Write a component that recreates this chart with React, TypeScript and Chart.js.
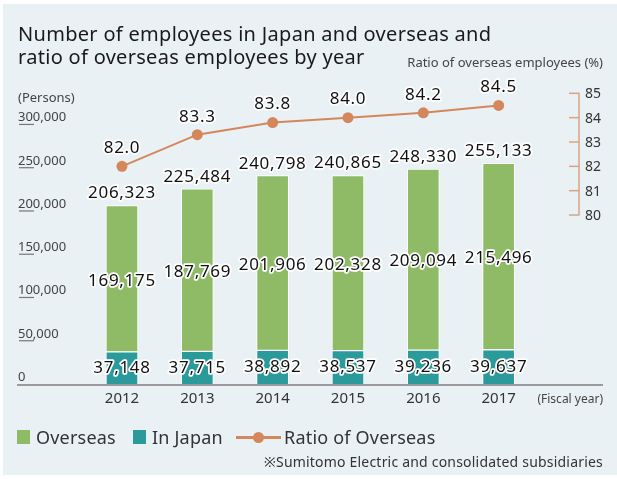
import React, { useEffect, useRef } from "react";
import { Chart, registerables } from "chart.js";

Chart.register(...registerables);

const years = ["2012", "2013", "2014", "2015", "2016", "2017"];
const inJapan = [37148, 37715, 38892, 38537, 39236, 39637];
const overseas = [169175, 187769, 201906, 202328, 209094, 215496];
const totals = [206323, 225484, 240798, 240865, 248330, 255133];
const ratio = [82.0, 83.3, 83.8, 84.0, 84.2, 84.5];
const leftTicks = [0, 50000, 100000, 150000, 200000, 250000, 300000];
const rightTicks = [80, 81, 82, 83, 84, 85];

const GREEN = "#8fbb67";
const TEAL = "#2a9a9b";
const ORANGE = "#d4875a";
const AXIS_ORANGE = "#dba382";
const FONT = '"Noto Sans", sans-serif';

const fmt = (v: number) => v.toLocaleString("en-US");

function haloText(ctx: CanvasRenderingContext2D, s: string, x: number, y: number) {
  ctx.lineWidth = 3.5;
  ctx.lineJoin = "round";
  ctx.strokeStyle = "#ffffff";
  ctx.strokeText(s, x, y);
  ctx.fillStyle = "#111111";
  ctx.fillText(s, x, y);
}

const decor = {
  id: "decor",
  beforeDatasetsDraw(chart: any) {
    const ctx: CanvasRenderingContext2D = chart.ctx;
    const y = chart.scales.y;
    const y1 = chart.scales.y1;
    ctx.save();
    // left tick labels with short underline marks
    ctx.font = `13px ${FONT}`;
    ctx.fillStyle = "#444444";
    ctx.textAlign = "left";
    ctx.textBaseline = "alphabetic";
    leftTicks.forEach((v) => {
      const py = y.getPixelForValue(v);
      ctx.fillText(fmt(v), 18, py - 3);
      if (v > 0) {
        ctx.strokeStyle = "#777777";
        ctx.lineWidth = 1.2;
        ctx.beginPath();
        ctx.moveTo(19, py);
        ctx.lineTo(34, py);
        ctx.stroke();
      }
    });
    // right axis
    const top = y1.getPixelForValue(rightTicks[rightTicks.length - 1]);
    const bot = y1.getPixelForValue(rightTicks[0]);
    ctx.strokeStyle = AXIS_ORANGE;
    ctx.lineWidth = 1.5;
    ctx.beginPath();
    ctx.moveTo(579, top);
    ctx.lineTo(579, bot);
    ctx.stroke();
    ctx.font = `14px ${FONT}`;
    ctx.fillStyle = "#333333";
    ctx.textBaseline = "middle";
    rightTicks.forEach((v) => {
      const py = y1.getPixelForValue(v);
      ctx.beginPath();
      ctx.moveTo(569, py);
      ctx.lineTo(579.5, py);
      ctx.stroke();
      ctx.fillText(String(v), 585, py + 1);
    });
    ctx.restore();
  },
  afterDatasetsDraw(chart: any) {
    const ctx: CanvasRenderingContext2D = chart.ctx;
    const x = chart.scales.x;
    const y = chart.scales.y;
    ctx.save();
    // x axis line
    const by = y.getPixelForValue(0);
    ctx.strokeStyle = "#9a9a9a";
    ctx.lineWidth = 2;
    ctx.beginPath();
    ctx.moveTo(17, by + 1);
    ctx.lineTo(603, by + 1);
    ctx.stroke();
    // x labels
    ctx.font = `15px ${FONT}`;
    ctx.fillStyle = "#333333";
    ctx.textAlign = "center";
    ctx.textBaseline = "middle";
    years.forEach((yr, i) => {
      ctx.fillText(yr, x.getPixelForValue(i), by + 15);
    });
    ctx.font = `12px ${FONT}`;
    ctx.textAlign = "right";
    ctx.fillStyle = "#444444";
    ctx.fillText("(Fiscal year)", 603, by + 16);

    // data labels
    ctx.font = `17px ${FONT}`;
    (ctx as any).letterSpacing = "0.7px";
    ctx.textAlign = "center";
    ctx.textBaseline = "middle";
    const mJ = chart.getDatasetMeta(0);
    const mO = chart.getDatasetMeta(1);
    const mR = chart.getDatasetMeta(2);
    years.forEach((_, i) => {
      const eJ = mJ.data[i];
      const eO = mO.data[i];
      const eR = mR.data[i];
      haloText(ctx, fmt(inJapan[i]), eJ.x, (eJ.y + eJ.base) / 2);
      haloText(ctx, fmt(overseas[i]), eO.x, (eO.y + eO.base) / 2 + 2);
      haloText(ctx, fmt(totals[i]), eO.x, eO.y - 12);
      haloText(ctx, ratio[i].toFixed(1), eR.x, eR.y - 18);
    });
    ctx.restore();
  },
};

export default function App() {
  const ref = useRef<HTMLCanvasElement | null>(null);

  useEffect(() => {
    if (!ref.current) return;
    const chart = new Chart(ref.current, {
      type: "bar",
      data: {
        labels: years,
        datasets: [
          {
            label: "In Japan",
            data: inJapan,
            backgroundColor: TEAL,
            borderColor: "#ffffff",
            borderWidth: 1,
            borderSkipped: "bottom",
            stack: "emp",
            yAxisID: "y",
            order: 2,
          },
          {
            label: "Overseas",
            data: overseas,
            backgroundColor: GREEN,
            borderColor: "#ffffff",
            borderWidth: 1,
            borderSkipped: false,
            stack: "emp",
            yAxisID: "y",
            order: 2,
          },
          {
            type: "line",
            label: "Ratio of Overseas",
            data: ratio,
            borderColor: ORANGE,
            backgroundColor: ORANGE,
            borderWidth: 2,
            pointRadius: 5.5,
            pointBackgroundColor: ORANGE,
            pointBorderWidth: 0,
            yAxisID: "y1",
            order: 0,
          } as any,
        ],
      },
      options: {
        responsive: false,
        maintainAspectRatio: false,
        animation: false,
        layout: { padding: { left: 84.3, right: 80.7, top: 93.3, bottom: 95 } },
        datasets: { bar: { barThickness: 32 } } as any,
        plugins: {
          legend: { display: false },
          tooltip: { enabled: false },
          title: { display: false },
        },
        scales: {
          x: { display: false, stacked: true, offset: true },
          y: { display: false, stacked: true, min: 0, max: 336000 },
          y1: { display: false, min: 73.06, max: 85 },
        },
      },
      plugins: [decor],
    });
    return () => chart.destroy();
  }, []);

  const textBase: React.CSSProperties = {
    position: "absolute",
    fontFamily: FONT,
    whiteSpace: "nowrap",
    margin: 0,
  };

  return (
    <div
      style={{
        position: "fixed",
        left: 0,
        top: 0,
        width: 617,
        height: 479,
        background: "#ffffff",
        overflow: "hidden",
      }}
    >
      <div
        style={{
          position: "absolute",
          left: 3,
          top: 4,
          width: 614,
          height: 471,
          background: "#e9f1f4",
        }}
      />
      <canvas
        ref={ref}
        width={617}
        height={479}
        style={{ position: "absolute", left: 0, top: 0, width: 617, height: 479 }}
      />
      <div
        style={{
          ...textBase,
          left: 18,
          top: 22,
          fontSize: 20,
          letterSpacing: "0.3px",
          lineHeight: "23px",
          color: "#1a1a1a",
        }}
      >
        Number of employees in Japan and overseas and
        <br />
        ratio of overseas employees by year
      </div>
      <div style={{ ...textBase, right: 14, top: 54, fontSize: 13, lineHeight: "16px", color: "#444" }}>
        Ratio of overseas employees (%)
      </div>
      <div style={{ ...textBase, left: 18, top: 89, fontSize: 13, lineHeight: "16px", color: "#444" }}>
        (Persons)
      </div>
      {/* legend */}
      <div style={{ position: "absolute", left: 17, top: 430, width: 13, height: 14, background: GREEN }} />
      <div
        style={{ ...textBase, left: 36, top: 426, fontSize: 18, letterSpacing: "0.2px", lineHeight: "22px", color: "#333" }}
      >
        Overseas
      </div>
      <div style={{ position: "absolute", left: 133, top: 430, width: 13, height: 14, background: TEAL }} />
      <div
        style={{ ...textBase, left: 152, top: 426, fontSize: 18, letterSpacing: "0.2px", lineHeight: "22px", color: "#333" }}
      >
        In Japan
      </div>
      <div style={{ position: "absolute", left: 236, top: 436, width: 45, height: 2.5, background: ORANGE }} />
      <div
        style={{
          position: "absolute",
          left: 252.5,
          top: 431.5,
          width: 11,
          height: 11,
          borderRadius: "50%",
          background: ORANGE,
        }}
      />
      <div
        style={{ ...textBase, left: 284, top: 426, fontSize: 18, letterSpacing: "0.2px", lineHeight: "22px", color: "#333" }}
      >
        Ratio of Overseas
      </div>
      <div
        style={{ ...textBase, right: 14, top: 452, fontSize: 14, letterSpacing: "0.2px", lineHeight: "19px", color: "#333" }}
      >
        ※Sumitomo Electric and consolidated subsidiaries
      </div>
    </div>
  );
}
